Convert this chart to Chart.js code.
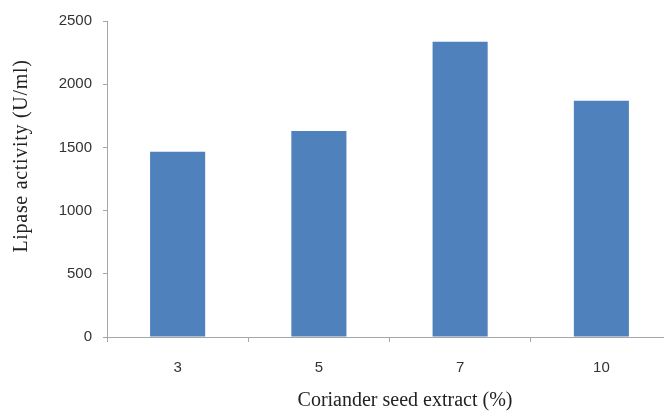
<!DOCTYPE html>
<html lang="en">
<head>
    <meta charset="UTF-8">
    <title>Lipase activity vs coriander seed extract</title>
    <script src="https://cdn.jsdelivr.net/npm/chart.js"></script>
    <style>
        html, body {
            margin: 0;
            padding: 0;
            background: #fff;
            overflow: hidden;
        }
        .chart-container {
            position: relative;
            width: 680px;
            height: 412px;
        }
    </style>
</head>
<body>
    <div class="chart-container">
        <canvas id="lipaseChart"></canvas>
    </div>
<script>
    // data
    const categories = ['3', '5', '7', '10'];
    const lipaseActivity = [1465, 1630, 2335, 1870];
    const yTicks = [0, 500, 1000, 1500, 2000, 2500];
    const xTitle = 'Coriander seed extract (%)';
    const yTitle = 'Lipase activity (U/ml)';

    const axisColor = '#a6a6a6';
    const barColor = '#4f81bd';
    const tickFont = { family: '"Liberation Sans", Arial, sans-serif', size: 15 };

    // axis titles drawn by hand so they sit where the original has them
    const axisTitles = {
        id: 'axisTitles',
        afterDraw(chart) {
            const ctx = chart.ctx;
            ctx.save();
            ctx.fillStyle = '#222';
            ctx.font = '20px "Liberation Serif", "Times New Roman", serif';
            ctx.textAlign = 'center';
            ctx.textBaseline = 'middle';
            ctx.fillText(xTitle, 405, 401);
            ctx.translate(22, 156);
            ctx.rotate(-Math.PI / 2);
            ctx.letterSpacing = '0.7px';
            ctx.fillText(yTitle, 0, 0);
            ctx.restore();
        }
    };

    const ctx = document.getElementById('lipaseChart').getContext('2d');
    new Chart(ctx, {
        type: 'bar',
        data: {
            labels: categories,
            datasets: [{
                label: 'Lipase activity',
                data: lipaseActivity,
                backgroundColor: barColor,
                borderWidth: 0,
                categoryPercentage: 1,
                barPercentage: 0.39
            }]
        },
        options: {
            responsive: true,
            maintainAspectRatio: false,
            animation: false,
            layout: {
                padding: { top: 21, right: 8, left: 0, bottom: 0 }
            },
            plugins: {
                legend: { display: false },
                tooltip: { enabled: false }
            },
            scales: {
                x: {
                    grid: {
                        display: true,
                        drawOnChartArea: false,
                        color: axisColor,
                        tickLength: 5,
                        offset: true
                    },
                    border: { color: axisColor, width: 1 },
                    ticks: {
                        color: '#333',
                        padding: 17,
                        font: tickFont
                    },
                    afterFit(scale) { scale.height = 75; }
                },
                y: {
                    min: 0,
                    max: 2500,
                    afterBuildTicks(scale) {
                        scale.ticks = yTicks.map(v => ({ value: v }));
                    },
                    grid: {
                        display: true,
                        drawOnChartArea: false,
                        color: axisColor,
                        tickLength: 4
                    },
                    border: { color: axisColor, width: 1 },
                    ticks: {
                        color: '#333',
                        padding: 11,
                        font: tickFont,
                        callback: v => String(v)
                    },
                    afterFit(scale) { scale.width = 107; }
                }
            }
        },
        plugins: [axisTitles]
    });
</script>
</body>
</html>
